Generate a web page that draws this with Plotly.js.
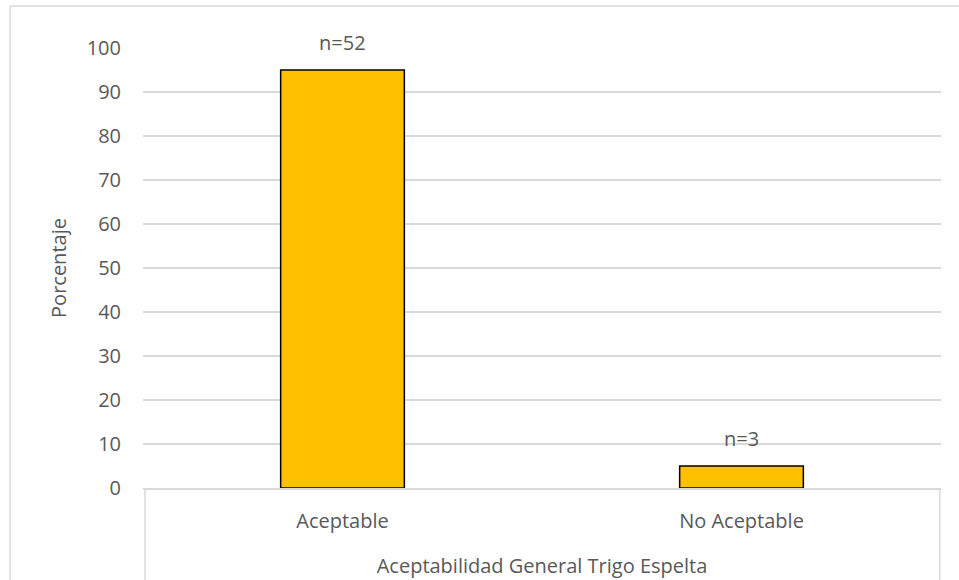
<!DOCTYPE html>
<html>
<head>
<meta charset="utf-8">
<script src="https://cdn.plot.ly/plotly-3.0.1.min.js"></script>
<style>html,body{margin:0;padding:0;background:#fff;}#chart{width:959px;height:580px;}</style>
</head>
<body>
<div id="chart"></div>
<script>
const categories = ["Aceptable", "No Aceptable"];
const percentages = [95, 5];
const countLabels = ["n=52", "n=3"];
const yTickValues = [0, 10, 20, 30, 40, 50, 60, 70, 80, 90, 100];

const FONT = "Open Sans, sans-serif";
const TXT = "#595959";
const GRID = "#D9D9D9";
const FS = 20;

const trace = {
  type: "bar",
  x: categories,
  y: percentages,
  width: 0.31,
  marker: { color: "#FFC000", line: { color: "#000000", width: 1.5 } },
  hoverinfo: "skip"
};

const annotations = categories.map((c, i) => ({
  x: c, y: percentages[i], xref: "x", yref: "y",
  text: countLabels[i], showarrow: false, yanchor: "bottom", yshift: 12,
  font: { family: FONT, size: FS, color: TXT }
}));

const layout = {
  width: 959, height: 580,
  margin: { l: 143, r: 18, t: 48, b: 92 },
  paper_bgcolor: "#ffffff", plot_bgcolor: "#ffffff",
  showlegend: false,
  font: { family: FONT, size: FS, color: TXT },
  xaxis: {
    type: "category",
    range: [-0.5, 1.5],
    showgrid: false, zeroline: false,
    showline: true, linecolor: GRID, linewidth: 1.5,
    ticks: "outside", ticklen: 14, tickcolor: "rgba(0,0,0,0)",
    tickfont: { family: FONT, size: FS, color: TXT },
    title: { text: "Aceptabilidad General Trigo Espelta", standoff: 26,
      font: { family: FONT, size: FS, color: TXT } }
  },
  yaxis: {
    range: [0, 100],
    tickvals: yTickValues,
    showgrid: true, gridcolor: GRID, gridwidth: 1.5,
    zeroline: false, showline: false,
    ticks: "outside", ticklen: 17, tickcolor: "rgba(0,0,0,0)",
    tickfont: { family: FONT, size: FS, color: TXT },
    title: { text: "Porcentaje", standoff: 14,
      font: { family: FONT, size: FS, color: TXT } }
  },
  annotations: annotations,
  shapes: [
    { type: "line", xref: "paper", yref: "paper", x0: -0.1665, x1: -0.1665, y0: -0.25, y1: 1.0955,
      line: { color: GRID, width: 1.5 } },
    { type: "line", xref: "paper", yref: "paper", x0: -0.1665, x1: 1.05, y0: 1.0955, y1: 1.0955,
      line: { color: GRID, width: 1.5 } },
    { type: "line", xref: "paper", yref: "paper", x0: 0.0025, x1: 0.0025, y0: -0.25, y1: 0,
      line: { color: GRID, width: 1.5 } },
    { type: "line", xref: "paper", yref: "paper", x0: 0.9985, x1: 0.9985, y0: -0.25, y1: 0,
      line: { color: GRID, width: 1.5 } }
  ]
};

Plotly.newPlot("chart", [trace], layout, { displayModeBar: false, staticPlot: true });
</script>
</body>
</html>
